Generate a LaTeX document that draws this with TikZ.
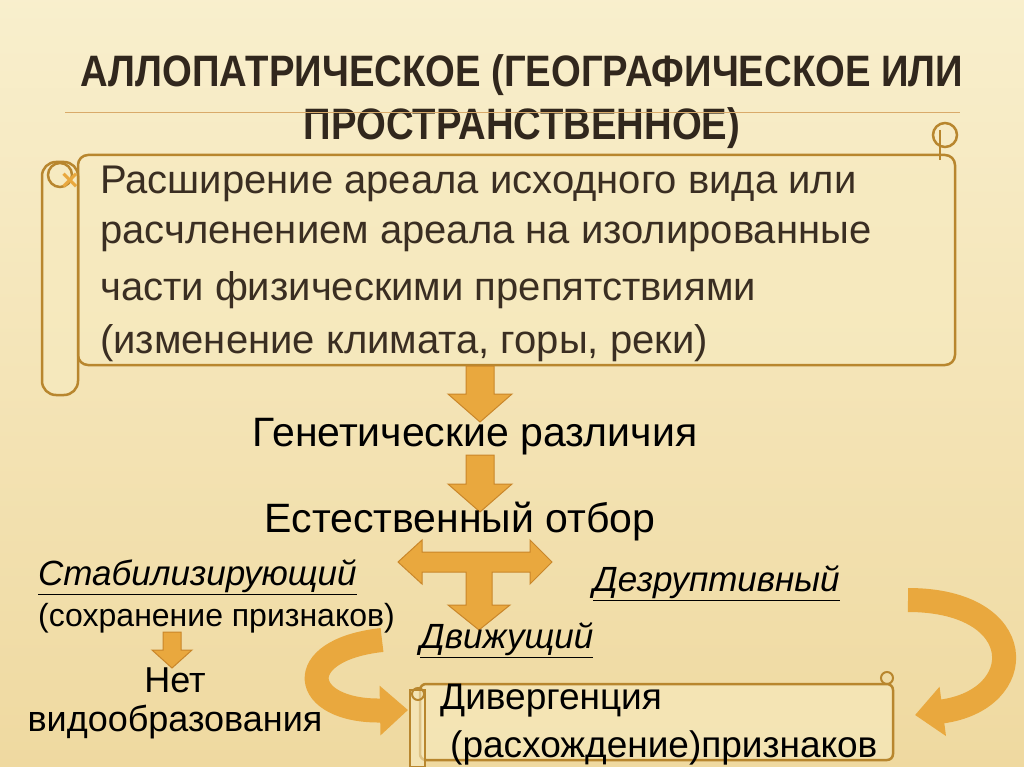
\documentclass[tikz,border=0pt]{standalone}
\usepackage{fontspec}
\setmainfont{Liberation Sans}
\usetikzlibrary{arrows.meta}
\definecolor{bg}{HTML}{F7EBC0}
\definecolor{bgd}{HTML}{EFD9A0}
\definecolor{org}{HTML}{E9A83E}
\definecolor{orgd}{HTML}{C9862A}
\definecolor{scr}{HTML}{B8862E}
\definecolor{txt}{HTML}{3A2E22}
\tikzset{
  body/.style={anchor=west,font=\fontsize{40}{40}\selectfont,text=txt,inner sep=0},
  lbl/.style={font=\fontsize{41}{41}\selectfont,inner sep=0},
  sm/.style={font=\fontsize{36}{36}\selectfont,inner sep=0},
  ital/.style={anchor=west,inner sep=0,font=\fontsize{35}{35}\selectfont\itshape},
  title/.style={font=\fontsize{44}{44}\selectfont\bfseries,text=txt!85!black,xscale=0.87,inner sep=0},
  scroll/.style={draw=scr,line width=2.5pt,fill=bg,fill opacity=0.6},
  bigarrow/.style={draw=orgd,fill=org,line width=1pt},
  curv/.style={org,line width=24pt,-{Triangle[width=48pt,length=28pt]}}
}
\begin{document}
\begin{tikzpicture}[x=1pt,y=-1pt]
\useasboundingbox (0,0) rectangle (1024,767);
\shade[top color=bg!80!white,bottom color=bgd] (0,0) rectangle (1024,767);
% title
\node[title] (t1) at (522,75) {АЛЛОПАТРИЧЕСКОЕ (ГЕОГРАФИЧЕСКОЕ ИЛИ};
\node[title] (t2) at (522,128) {ПРОСТРАНСТВЕННОЕ)};
\draw[orgd!70,line width=1pt] (65,113) -- (960,113);
% scroll 1
\draw[scroll,rounded corners=10pt] (78,155) rectangle (955,365);
\draw[scroll,rounded corners=14pt] (42,162) rectangle (78,395);
\draw[scr,line width=2.5pt] (60,175) circle (12);
\draw[scr,line width=2.5pt] (945,135) circle (12);
\draw[scr,line width=2.5pt] (940,130) -- (940,160);
\node[text=org,font=\fontsize{30}{30}\selectfont\bfseries] (bul) at (70,182) {×};
\node[body] (l1) at (100,184) {Расширение ареала исходного вида или};
\node[body] (l2) at (100,237) {расчленением ареала на изолированные};
\node[body] (l3) at (100,290) {части физическими препятствиями};
\node[body] (l4) at (100,343) {(изменение климата, горы, реки)};
% arrows
\draw[bigarrow] (466,366) -- (494,366) -- (494,394) -- (512,394) -- (480,422) -- (448,394) -- (466,394) -- cycle;
\node[lbl] (gen) at (475,437) {Генетические различия};
\draw[bigarrow] (466,455) -- (494,455) -- (494,484) -- (512,484) -- (480,512) -- (448,484) -- (466,484) -- cycle;
\node[lbl] (est) at (460,522) {Естественный отбор};
\draw[bigarrow] (398,562) -- (422,540) -- (422,552) -- (530,552) -- (530,540) -- (552,562) -- (530,584) -- (530,572) -- (492,572) -- (492,605) -- (510,605) -- (479,630) -- (448,605) -- (466,605) -- (466,572) -- (422,572) -- (422,584) -- cycle;
\node[ital] (stab) at (38,577) {\underline{Стабилизирующий}};
\node[anchor=west,inner sep=0,font=\fontsize{32}{32}\selectfont] (sohr) at (38,618) {(сохранение признаков)};
\draw[bigarrow] (163,632) -- (181,632) -- (181,650) -- (192,650) -- (172,668) -- (152,650) -- (163,650) -- cycle;
\node[sm] (net) at (175,680) {Нет};
\node[sm] (vid) at (175,722) {видообразования};
\node[ital] (dez) at (593,583) {\underline{Дезруптивный}};
\node[ital] (dv) at (420,640) {\underline{Движущий}};
% scroll 2
\draw[scroll,rounded corners=6pt] (420,684) rectangle (893,760);
\draw[scroll] (410,690) rectangle (425,767);
\draw[scr,line width=2pt] (887,678) circle (6);
\draw[scr,line width=2pt] (418,694) circle (6);
\node[sm,anchor=west,font=\fontsize{37}{37}\selectfont] (div) at (440,701) {Дивергенция};
\node[sm,anchor=west,font=\fontsize{37}{37}\selectfont] (ras) at (450,748) {(расхождение)признаков};
% curved arrows
\coordinate (c1s) at (382,640);
\coordinate (c1e) at (408,710);
\draw[curv] (c1s) .. controls (290,650) and (300,712) .. (c1e);
\coordinate (c2s) at (908,600);
\coordinate (c2e) at (915,715);
\draw[curv] (c2s) .. controls (1030,600) and (1030,700) .. (c2e);
\end{tikzpicture}
\end{document}
